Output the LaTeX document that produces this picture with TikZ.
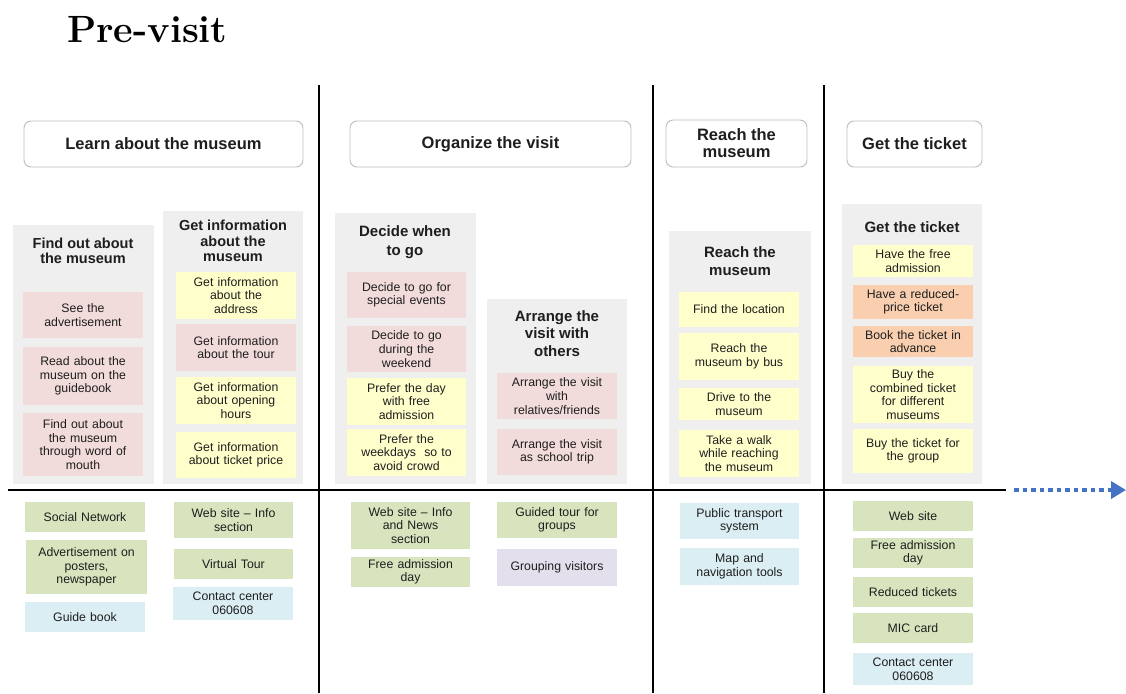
\documentclass[tikz,border=0pt]{standalone}
\usepackage{fontspec}
\usetikzlibrary{arrows.meta}
\newfontfamily\labelsans{Liberation Sans}
\newcommand\cardfont{\labelsans\fontsize{12.3}{13.6}\selectfont}
\newcommand\hdrfont{\labelsans\bfseries\fontsize{16.5}{17}\selectfont}
\newcommand\ptitlefont{\labelsans\bfseries\fontsize{15}{17.5}\selectfont}
\definecolor{pinkc}{HTML}{F2DCDB}
\definecolor{yellowc}{HTML}{FFFFCC}
\definecolor{greenc}{HTML}{D7E4BD}
\definecolor{bluec}{HTML}{DBEEF4}
\definecolor{lavc}{HTML}{E4DFEC}
\definecolor{orangec}{HTML}{F9CFB0}
\definecolor{panelc}{HTML}{EFEFEF}
\definecolor{hdrdraw}{HTML}{BDBDBD}
\definecolor{arrowc}{HTML}{4472C4}
\definecolor{txt}{HTML}{1E1E1E}
\tikzset{
  card/.style={inner sep=0pt, text width=116pt, align=center, minimum width=120pt, font=\cardfont, text=txt},
  pcard/.style={card, fill=pinkc},
  ycard/.style={card, fill=yellowc},
  gcard/.style={card, fill=greenc},
  bcard/.style={card, fill=bluec},
  lcard/.style={card, fill=lavc},
  ocard/.style={card, fill=orangec},
  panel/.style={fill=panelc, inner sep=0pt},
  hdr/.style={draw=hdrdraw, line width=0.9pt, rounded corners=7pt, fill=white, font=\hdrfont, text=txt, align=center, inner sep=0pt},
  ptitle/.style={font=\ptitlefont, text=txt, align=center, inner sep=0pt},
  rule/.style={line width=1.6pt, black},
  flow/.style={line width=3.6pt, arrowc, dash pattern=on 4.5pt off 4pt, -{Triangle[length=15pt,width=17pt]}}
}
\begin{document}
\begin{tikzpicture}[x=1pt,y=-1pt]
\useasboundingbox (0,0) rectangle (1126,693);

% title
\node[anchor=base west, inner sep=0pt, font=\fontsize{38}{41}\selectfont\bfseries] (title) at (67,42) {Pre-visit};

% stage headers
\node[hdr, minimum width=279pt, minimum height=46pt] (learn) at (163.5,144) {Learn about the museum};
\node[hdr, minimum width=281pt, minimum height=46pt] (organize) at (490.5,144) {Organize the visit};
\node[hdr, minimum width=141pt, minimum height=47pt] (reachH) at (736.5,143.5) {Reach the\\museum};
\node[hdr, minimum width=135pt, minimum height=46pt] (ticketH) at (914.5,144) {Get the ticket};

% activity panels
\node[panel, minimum width=141pt, minimum height=259pt] (pFind) at (83.5,354.5) {};
\node[panel, minimum width=140pt, minimum height=273pt] (pInfo) at (233,347.5) {};
\node[panel, minimum width=141pt, minimum height=271pt] (pDecide) at (405.5,348.5) {};
\node[panel, minimum width=140pt, minimum height=185pt] (pArrange) at (557,391.5) {};
\node[panel, minimum width=142pt, minimum height=253pt] (pReach) at (740,357.5) {};
\node[panel, minimum width=140pt, minimum height=280pt] (pTicket) at (912,344) {};

% panel titles
\node[ptitle, font=\labelsans\bfseries\fontsize{14.5}{15.5}\selectfont] (tFind) at (83,251) {Find out about\\the museum};
\node[ptitle, font=\labelsans\bfseries\fontsize{14.5}{15.5}\selectfont] (tInfo) at (233,241) {Get information\\about the\\museum};
\node[ptitle, font=\labelsans\bfseries\fontsize{15}{18.5}\selectfont] (tDecide) at (405,242) {Decide when\\to go};
\node[ptitle] (tArrange) at (557,333.5) {Arrange the\\visit with\\others};
\node[ptitle, font=\labelsans\bfseries\fontsize{15}{18}\selectfont] (tReach) at (740,261.5) {Reach the\\museum};
\node[ptitle] (tTicket) at (912,227) {Get the ticket};

% learn about the museum
\node[pcard, minimum height=46pt] (see) at (83,315) {See the\\advertisement};
\node[pcard, minimum height=58pt] (read) at (83,376) {Read about the\\museum on the\\guidebook};
\node[pcard, minimum height=63pt] (word) at (83,444.5) {Find out about\\the museum\\through word of\\mouth};
\node[ycard, minimum height=47pt] (addr) at (236,295.5) {Get information\\about the\\address};
\node[pcard, minimum height=47pt] (tour) at (236,347.5) {Get information\\about the tour};
\node[ycard, minimum height=47pt] (hours) at (236,400.5) {Get information\\about opening\\hours};
\node[ycard, minimum height=46pt] (price) at (236,455) {Get information\\about ticket price};

% organize the visit
\node[pcard, minimum width=119pt, minimum height=46pt] (special) at (406.5,295) {Decide to go for\\special events};
\node[pcard, minimum width=119pt, minimum height=46pt] (weekend) at (406.5,349) {Decide to go\\during the\\weekend};
\node[ycard, minimum width=119pt, minimum height=47pt] (freeday) at (406.5,401.5) {Prefer the day\\with free\\admission};
\node[ycard, minimum width=119pt, minimum height=47pt] (weekdays) at (406.5,452.5) {Prefer the\\weekdays\ \ so to\\avoid crowd};
\node[pcard, minimum height=46pt] (relatives) at (557,396) {Arrange the visit\\with\\relatives/friends};
\node[pcard, minimum height=46pt] (school) at (557,452) {Arrange the visit\\as school trip};

% reach the museum
\node[ycard, minimum height=35pt] (location) at (739,309.5) {Find the location};
\node[ycard, minimum height=47pt] (bus) at (739,356.5) {Reach the\\museum by bus};
\node[ycard, minimum height=32pt] (drive) at (739,404) {Drive to the\\museum};
\node[ycard, minimum height=47pt] (walk) at (739,453.5) {Take a walk\\while reaching\\the museum};

% get the ticket
\node[ycard, minimum height=32pt] (free) at (913,261) {Have the free\\admission};
\node[ocard, minimum height=34pt] (reduced) at (913,302) {Have a reduced-\\price ticket};
\node[ocard, minimum height=31pt] (book) at (913,341.5) {Book the ticket in\\advance};
\node[ycard, minimum height=57pt] (combined) at (913,394.5) {Buy the\\combined ticket\\for different\\museums};
\node[ycard, minimum height=44pt] (group) at (913,451) {Buy the ticket for\\the group};

% touchpoints below the line
\node[gcard, minimum height=30pt] (social) at (85,517) {Social Network};
\node[gcard, minimum width=121pt, minimum height=54pt] (posters) at (86.5,567) {Advertisement on\\posters,\\newspaper};
\node[bcard, minimum height=30pt] (guide) at (85,617) {Guide book};
\node[gcard, minimum width=119pt, minimum height=36pt] (webinfo) at (233.5,520) {Web site – Info\\section};
\node[gcard, minimum width=119pt, minimum height=30pt] (virtual) at (233.5,564) {Virtual Tour};
\node[bcard, minimum height=33pt] (contactA) at (233,603.5) {Contact center\\060608};
\node[gcard, minimum width=119pt, minimum height=47pt] (webnews) at (410.5,525.5) {Web site – Info\\and News\\section};
\node[gcard, minimum width=119pt, minimum height=30pt] (freeadmA) at (410.5,572) {Free admission\\day};
\node[gcard, minimum height=36pt] (guided) at (557,520) {Guided tour for\\groups};
\node[lcard, minimum height=37pt] (grouping) at (557,567.5) {Grouping visitors};
\node[bcard, minimum width=119pt, minimum height=36pt] (public) at (739.5,521) {Public transport\\system};
\node[bcard, minimum width=119pt, minimum height=37pt] (mapnav) at (739.5,566.5) {Map and\\navigation tools};
\node[gcard, minimum height=30pt] (web) at (913,516) {Web site};
\node[gcard, minimum height=30pt] (freeadmB) at (913,553) {Free admission\\day};
\node[gcard, minimum height=30pt] (reducedT) at (913,592) {Reduced tickets};
\node[gcard, minimum height=30pt] (mic) at (913,628) {MIC card};
\node[bcard, minimum height=32pt] (contactB) at (913,669) {Contact center\\060608};

% stage separators and line of visibility
\coordinate (s1t) at (319,85);  \coordinate (s1b) at (319,693);
\coordinate (s2t) at (653,85);  \coordinate (s2b) at (653,693);
\coordinate (s3t) at (824,85);  \coordinate (s3b) at (824,693);
\coordinate (lineL) at (8,490); \coordinate (lineR) at (1006,490);
\draw[rule] (s1t) -- (s1b);
\draw[rule] (s2t) -- (s2b);
\draw[rule] (s3t) -- (s3b);
\draw[rule] (lineL) -- (lineR);

% continuation arrow
\coordinate (flowS) at (1014,490);
\coordinate (flowE) at (1126,490);
\draw[flow] (flowS) -- (flowE);
\end{tikzpicture}
\end{document}
